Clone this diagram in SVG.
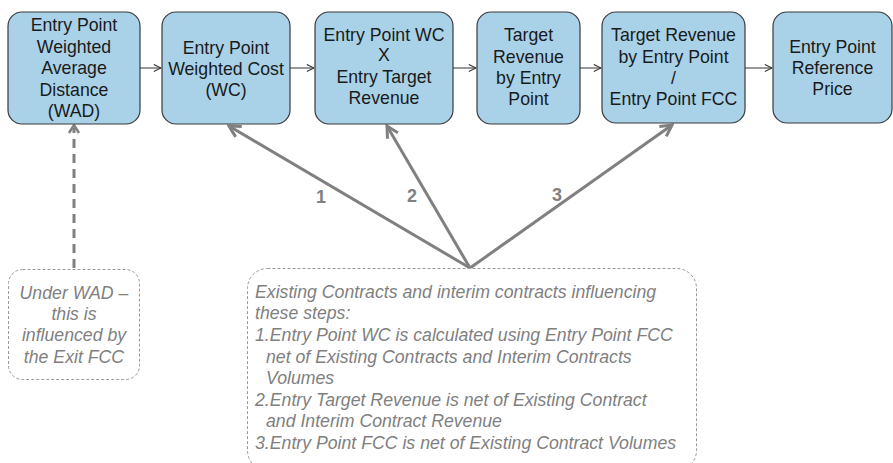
<svg xmlns="http://www.w3.org/2000/svg" width="893" height="463" viewBox="0 0 893 463">
<defs>
<style>
.box{fill:#a9d2e9;stroke:#3a3a3a;stroke-width:1.2}
.t{font-family:"Liberation Sans",Arial,sans-serif;font-size:17.7px;fill:#1a1a1a;text-anchor:middle}
.note{fill:#fff;stroke:#9a9a9a;stroke-width:1;stroke-dasharray:3,2}
.nt{font-family:"Liberation Sans",Arial,sans-serif;font-size:17.7px;font-style:italic;fill:#7f7f7f}
.flow{stroke:#333;stroke-width:1;fill:none;marker-end:url(#ah)}
.gray{stroke:#808080;stroke-width:3;fill:none;marker-end:url(#gh)}
.lbl{font-family:"Liberation Sans",Arial,sans-serif;font-size:18px;font-weight:bold;fill:#808080;text-anchor:middle}
</style>
<marker id="ah" viewBox="0 0 10 10" refX="9" refY="5" markerWidth="9" markerHeight="9" markerUnits="userSpaceOnUse" orient="auto">
<path d="M1,1 L9,5 L1,9" fill="none" stroke="#333" stroke-width="1.2"/>
</marker>
<marker id="gh" viewBox="0 0 10 10" refX="8.5" refY="5" markerWidth="5" markerHeight="5" orient="auto">
<path d="M1,1 L8.5,5 L1,9" fill="none" stroke="#808080" stroke-width="2"/>
</marker>
</defs>
<rect width="893" height="463" fill="#fff"/>
<g id="connectors">
<line class="flow" x1="140" y1="68" x2="161" y2="68"/>
<line class="flow" x1="290" y1="68" x2="314" y2="68"/>
<line class="flow" x1="453" y1="68" x2="476" y2="68"/>
<line class="flow" x1="580" y1="68" x2="601" y2="68"/>
<line class="flow" x1="745" y1="68" x2="772" y2="68"/>
<line x1="74" y1="268" x2="74" y2="128" stroke="#808080" stroke-width="3" stroke-dasharray="9,6"/>
<path d="M69,133 L74,125 L79,133" fill="none" stroke="#808080" stroke-width="2.5"/>
<line class="gray" x1="470" y1="268" x2="229" y2="126"/>
<line class="gray" x1="470" y1="268" x2="387" y2="126"/>
<line class="gray" x1="470" y1="268" x2="672" y2="125"/>
<text class="lbl" x="321" y="203">1</text>
<text class="lbl" x="412" y="202">2</text>
<text class="lbl" x="557" y="201">3</text>
</g>
<g id="n1">
<rect class="box" x="8" y="12" width="132" height="112" rx="14"/>
<text class="t"><tspan x="74" y="31">Entry Point</tspan><tspan x="74" y="53">Weighted</tspan><tspan x="74" y="74">Average</tspan><tspan x="74" y="96">Distance</tspan><tspan x="74" y="117">(WAD)</tspan></text>
</g>
<g id="n2">
<rect class="box" x="162" y="12" width="128" height="112" rx="14"/>
<text class="t"><tspan x="226" y="54">Entry Point</tspan><tspan x="226" y="75">Weighted Cost</tspan><tspan x="226" y="96">(WC)</tspan></text>
</g>
<g id="n3">
<rect class="box" x="315" y="12" width="138" height="112" rx="14"/>
<text class="t"><tspan x="384" y="41">Entry Point WC</tspan><tspan x="384" y="61">X</tspan><tspan x="384" y="83">Entry Target</tspan><tspan x="384" y="104">Revenue</tspan></text>
</g>
<g id="n4">
<rect class="box" x="477" y="12" width="103" height="112" rx="14"/>
<text class="t"><tspan x="528.5" y="41">Target</tspan><tspan x="528.5" y="63">Revenue</tspan><tspan x="528.5" y="84">by Entry</tspan><tspan x="528.5" y="105">Point</tspan></text>
</g>
<g id="n5">
<rect class="box" x="602" y="12" width="143" height="111" rx="14"/>
<text class="t"><tspan x="673.5" y="41">Target Revenue</tspan><tspan x="673.5" y="63">by Entry Point</tspan><tspan x="673.5" y="84">/</tspan><tspan x="673.5" y="105">Entry Point FCC</tspan></text>
</g>
<g id="n6">
<rect class="box" x="773" y="12" width="119" height="111" rx="14"/>
<text class="t"><tspan x="832.5" y="53">Entry Point</tspan><tspan x="832.5" y="74">Reference</tspan><tspan x="832.5" y="95">Price</tspan></text>
</g>
<g id="note1">
<rect class="note" x="8.5" y="269.5" width="131" height="110" rx="14"/>
<text class="nt" text-anchor="middle"><tspan x="74" y="299">Under WAD –</tspan><tspan x="74" y="320">this is</tspan><tspan x="74" y="341">influenced by</tspan><tspan x="74" y="363">the Exit FCC</tspan></text>
</g>
<g id="note2">
<rect class="note" x="247.5" y="268.5" width="449" height="202" rx="20"/>
<text class="nt"><tspan x="255" y="298">Existing Contracts and interim contracts influencing</tspan><tspan x="255" y="319">these steps:</tspan><tspan x="255" y="341">1.Entry Point WC is calculated using Entry Point FCC</tspan><tspan x="266" y="363">net of Existing Contracts and Interim Contracts</tspan><tspan x="266" y="384">Volumes</tspan><tspan x="255" y="406">2.Entry Target Revenue is net of Existing Contract</tspan><tspan x="266" y="427">and Interim Contract Revenue</tspan><tspan x="255" y="449">3.Entry Point FCC is net of Existing Contract Volumes</tspan></text>
</g>
</svg>
